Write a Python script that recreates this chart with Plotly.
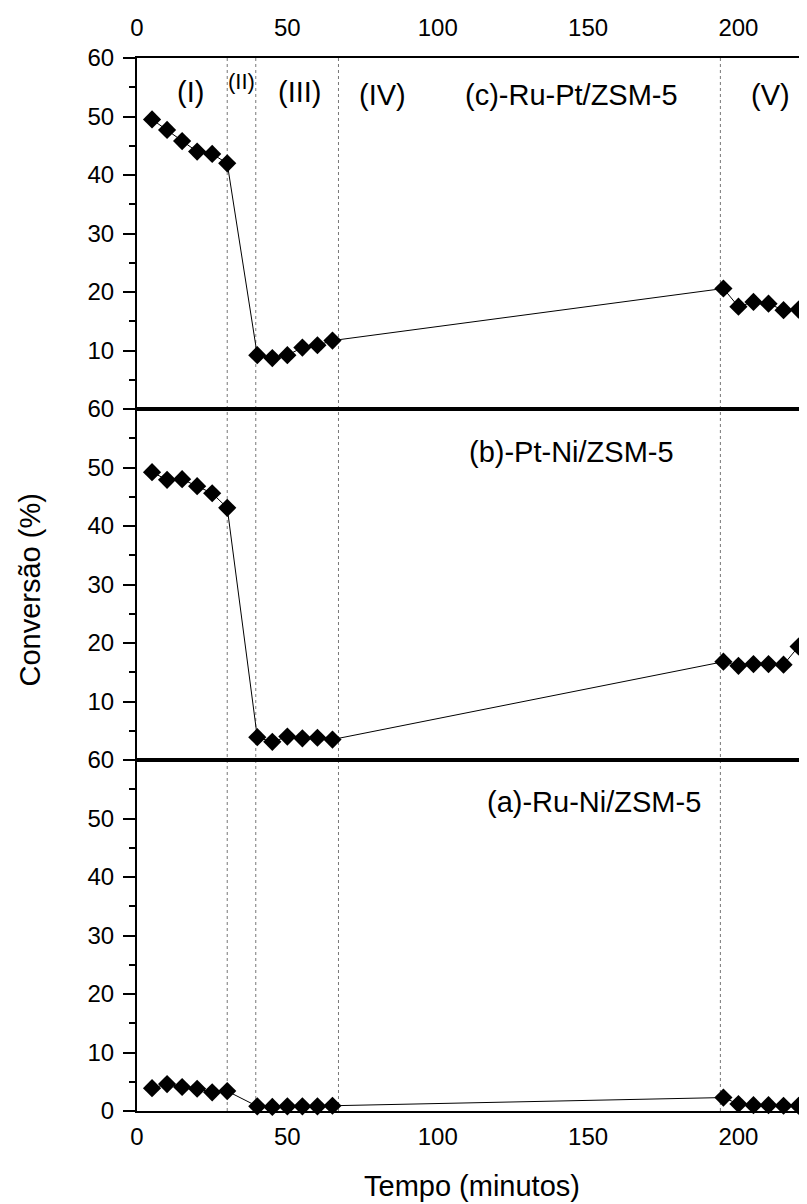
import plotly.graph_objects as go

# ---- data ----
time_min = [5, 10, 15, 20, 25, 30, 40, 45, 50, 55, 60, 65, 195, 200, 205, 210, 215, 220]
conv_c = [49.5, 47.7, 45.8, 44.0, 43.6, 42.0, 9.2, 8.7, 9.2, 10.5, 10.9, 11.7,
          20.6, 17.5, 18.3, 18.0, 16.9, 17.0]   # (c)-Ru-Pt/ZSM-5
conv_b = [49.2, 47.9, 48.0, 46.8, 45.6, 43.1, 3.9, 3.1, 4.0, 3.7, 3.8, 3.5,
          16.8, 16.1, 16.4, 16.4, 16.3, 19.4]   # (b)-Pt-Ni/ZSM-5
conv_a = [3.9, 4.6, 4.1, 3.8, 3.2, 3.4, 0.8, 0.7, 0.8, 0.8, 0.8, 0.9,
          2.3, 1.2, 1.0, 1.0, 0.9, 0.9]         # (a)-Ru-Ni/ZSM-5
stage_bounds = [30, 39.5, 67, 194]
stage_labels = ["(I)", "(II)", "(III)", "(IV)", "(V)"]
stage_label_x = [17.7, 34.6, 54.3, 81.8, 210.6]
stage_label_y = [54.2, 56.0, 54.2, 53.6, 53.6]
panel_labels = ["(a)-Ru-Ni/ZSM-5", "(b)-Pt-Ni/ZSM-5", "(c)-Ru-Pt/ZSM-5"]
panel_label_x = [152.0, 144.6, 144.6]
panel_label_y = [52.9, 52.7, 53.6]
x_ticks = [0, 50, 100, 150, 200]

FONT = "Liberation Sans, Arial, sans-serif"

fig = go.Figure()
series = [(conv_a, "x", "y"), (conv_b, "x2", "y2"), (conv_c, "x3", "y3")]
for vals, xa, ya in series:
    fig.add_trace(go.Scatter(
        x=time_min, y=vals, xaxis=xa, yaxis=ya,
        mode="lines+markers",
        line=dict(color="black", width=1),
        marker=dict(symbol="diamond", size=14, color="black"),
        cliponaxis=False, showlegend=False))

# vertical stage separators across all panels
for xb in stage_bounds:
    fig.add_shape(type="line", xref="x", yref="paper", x0=xb, x1=xb, y0=0, y1=1,
                  line=dict(color="#777777", width=1, dash="dot"), layer="below")

xcommon = dict(range=[0, 222.8], showline=True, linecolor="black", linewidth=2,
               mirror=True, showgrid=False, zeroline=False,
               tickvals=x_ticks, ticks="outside",
               tickcolor="rgba(0,0,0,0)",
               tickfont=dict(family=FONT, size=24, color="black"))
ycommon = dict(range=[0, 60], showline=True, linecolor="black", linewidth=2,
               showgrid=False, zeroline=False, ticks="outside", ticklen=12,
               tickwidth=1.5, tickcolor="black", ticklabelstandoff=4,
               tickfont=dict(family=FONT, size=24, color="black"),
               minor=dict(tickvals=[5, 15, 25, 35, 45, 55], ticks="outside",
                          ticklen=6, tickcolor="black", tickwidth=1.5))

# page body adds an 8px margin, so the figure is sized to fit the 807x1204 window
fig.update_layout(
    width=799, height=1196,
    margin=dict(l=129, r=0, t=50, b=93),
    paper_bgcolor="white", plot_bgcolor="white",
    xaxis=dict(**xcommon, anchor="y", side="bottom", ticklen=3),
    xaxis2=dict(**xcommon, anchor="y2", matches="x", showticklabels=False, ticklen=3),
    xaxis3=dict(**xcommon, anchor="y3", matches="x", side="top", ticklen=10),
    yaxis=dict(**ycommon, domain=[0, 1/3], anchor="x",
               tickvals=[0, 10, 20, 30, 40, 50, 60]),
    yaxis2=dict(**ycommon, domain=[1/3, 2/3], anchor="x2",
                tickvals=[10, 20, 30, 40, 50, 60]),
    yaxis3=dict(**ycommon, domain=[2/3, 1], anchor="x3",
                tickvals=[10, 20, 30, 40, 50, 60]),
)

ann = []
# stage labels in top panel
for lab, xl, yl in zip(stage_labels, stage_label_x, stage_label_y):
    small = lab == "(II)"
    ann.append(dict(text=lab, x=xl, y=yl, xref="x3", yref="y3",
                    showarrow=False, font=dict(family=FONT, size=22 if small else 29,
                                               color="black")))
# panel labels
for lab, xl, yl, xr, yr in zip(panel_labels, panel_label_x, panel_label_y,
                               ["x", "x2", "x3"], ["y", "y2", "y3"]):
    ann.append(dict(text=lab, x=xl, y=yl, xref=xr, yref=yr, showarrow=False,
                    font=dict(family=FONT, size=29, color="black")))
# axis titles
ann.append(dict(text="Tempo (minutos)", x=0.5, y=-0.0715, xref="paper", yref="paper",
                showarrow=False, yanchor="middle",
                font=dict(family=FONT, size=29, color="black")))
ann.append(dict(text="Conversão (%)", x=-0.16, y=0.495, xref="paper", yref="paper",
                showarrow=False, textangle=-90, xanchor="center", yanchor="middle",
                font=dict(family=FONT, size=29, color="black")))
fig.update_layout(annotations=ann)

fig.write_html("out.html")
